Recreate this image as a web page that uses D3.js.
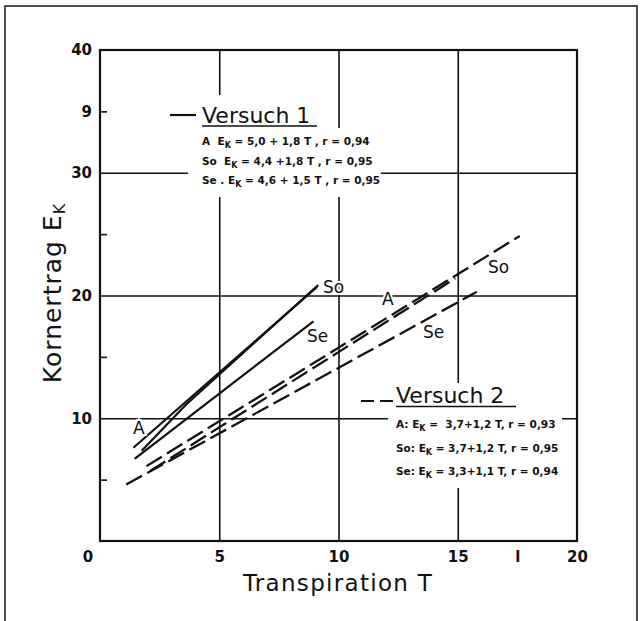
<!DOCTYPE html>
<html>
<head>
<meta charset="utf-8">
<script src="https://cdn.jsdelivr.net/npm/d3@7"></script>
<style>
  body { margin: 0; background: #fff; }
  text { font-family: "DejaVu Sans", sans-serif; fill: #111; }
</style>
</head>
<body>
<div id="chart"></div>
<script>

// tick values + the labels as printed (the "9" and "l" are in the scan)
const yTickValues = [10, 20, 30, 35, 40];
const yTickLabels = ["10", "20", "30", "9", "40"];
const yMinorTicks = [5, 15, 25, 35];
const xTickValues = [5, 10, 15, 17.5, 20];
const xTickLabels = ["5", "10", "15", "l", "20"];
const gridX = [5, 10, 15];
const gridY = [10, 20, 30];

// Versuch 1 (solid) - [T, Ek]
const v1_A  = [[1.4, 7.6], [9.1, 20.7]];
const v1_So = [[1.75, 7.35], [3.6, 11.1], [9.15, 20.85]];
const v1_Se = [[1.45, 6.7], [8.95, 17.9]];

// Versuch 2 (dashed)
const v2_A  = [[2.1, 5.7], [14.9, 21.4]];
const v2_So = [[1.95, 6.1], [17.6, 24.85]];
const v2_Se = [[1.1, 4.6], [15.8, 20.3]];

const v1Eq = [
  ["A  E", " = 5,0 + 1,8 T , r = 0,94"],
  ["So  E", " = 4,4 +1,8 T , r = 0,95"],
  ["Se . E", " = 4,6 + 1,5 T , r = 0,95"]
];
const v2Eq = [
  ["A: E", " =  3,7+1,2 T, r = 0,93"],
  ["So: E", " = 3,7+1,2 T, r = 0,95"],
  ["Se: E", " = 3,3+1,1 T, r = 0,94"]
];

// label anchors in data units
const lineLabels = [
  {t: "So", T: 9.35, E: 20.2},
  {t: "Se", T: 8.68, E: 16.2},
  {t: "A",  T: 1.38, E: 8.72},
  {t: "A",  T: 11.82, E: 19.23},
  {t: "Se", T: 13.54, E: 16.54},
  {t: "So", T: 16.27, E: 21.83}
];

var width = 641, height = 621;

var svg = d3.select("#chart").append("svg")
    .attr("width", width)
    .attr("height", height);

// outer frame (bottom runs off the page)
svg.append("rect")
    .attr("x", 5).attr("y", 6)
    .attr("width", 632).attr("height", 640)
    .attr("fill", "none").attr("stroke", "#222").attr("stroke-width", 1.6);

var x = d3.scaleLinear().domain([0, 20]).range([100, 577]);
var y = d3.scaleLinear().domain([0, 40]).range([541, 50]);

// grid
var gx = svg.append("g")
    .attr("transform", "translate(0," + y(0) + ")")
    .call(d3.axisBottom(x).tickValues(gridX).tickSize(-(y(0) - y(40))).tickFormat(""));
var gy = svg.append("g")
    .attr("transform", "translate(" + x(0) + ",0)")
    .call(d3.axisLeft(y).tickValues(gridY).tickSize(-(x(20) - x(0))).tickFormat(""));
[gx, gy].forEach(function(g) {
  g.select(".domain").remove();
  g.selectAll("line").attr("stroke", "#111").attr("stroke-width", 1.6);
});

// white knock-outs behind the legend blocks
var knock = [
  [196, 95, 129, 33], [188, 128, 193, 69],
  [392, 383, 130, 29], [388, 412, 174, 76]
];
svg.selectAll(".knock").data(knock).enter().append("rect")
    .attr("x", d => d[0]).attr("y", d => d[1])
    .attr("width", d => d[2]).attr("height", d => d[3])
    .attr("fill", "#fff");

// frame
svg.append("rect")
    .attr("x", x(0)).attr("y", y(40))
    .attr("width", x(20) - x(0)).attr("height", y(0) - y(40))
    .attr("fill", "none").attr("stroke", "#111").attr("stroke-width", 2.2);

// axes labels
var ax = svg.append("g")
    .attr("transform", "translate(" + x(0) + ",0)")
    .call(d3.axisLeft(y).tickValues(yTickValues).tickSize(0).tickPadding(8)
      .tickFormat((d, i) => yTickLabels[i]));
var minor = svg.append("g")
    .attr("transform", "translate(" + x(0) + ",0)")
    .call(d3.axisLeft(y).tickValues(yMinorTicks).tickSize(-7).tickFormat(""));
var bx = svg.append("g")
    .attr("transform", "translate(0," + y(0) + ")")
    .call(d3.axisBottom(x).tickValues(xTickValues).tickSize(0).tickPadding(10)
      .tickFormat((d, i) => xTickLabels[i]));
[ax, minor, bx].forEach(function(g) {
  g.select(".domain").remove();
  g.selectAll("text").style("font-size", "15px").style("font-weight", "bold")
    .style("font-family", "DejaVu Sans").attr("fill", "#111");
  g.selectAll("line").attr("stroke", "#111").attr("stroke-width", 1.6);
});
svg.append("text")
    .attr("x", x(0) - 12).attr("y", y(0) + 21)
    .attr("text-anchor", "middle")
    .style("font-size", "15px").style("font-weight", "bold")
    .text("0");

// data lines
var line = d3.line().x(d => x(d[0])).y(d => y(d[1]));
[v1_A, v1_So, v1_Se].forEach(function(d) {
  svg.append("path").datum(d).attr("d", line)
      .attr("fill", "none").attr("stroke", "#111").attr("stroke-width", 2.2);
});
[v2_A, v2_So, v2_Se].forEach(function(d) {
  svg.append("path").datum(d).attr("d", line)
      .attr("fill", "none").attr("stroke", "#111").attr("stroke-width", 2.3)
      .attr("stroke-dasharray", "18,6");
});

// line labels, white halo cuts the grid like in the print
svg.selectAll(".lbl").data(lineLabels).enter().append("text")
    .attr("x", d => x(d.T)).attr("y", d => y(d.E))
    .style("font-size", "17px")
    .attr("stroke", "#fff").attr("stroke-width", 4).attr("paint-order", "stroke")
    .text(d => d.t);

// legends
function legend(title, eqs, tx, ty, rows, dashed, mx0, mx1, my, tw) {
  svg.append("line")
      .attr("x1", mx0).attr("x2", mx1).attr("y1", my).attr("y2", my)
      .attr("stroke", "#111").attr("stroke-width", 2.2)
      .attr("stroke-dasharray", dashed ? "13,6" : null);
  svg.append("text").attr("x", tx).attr("y", ty)
      .style("font-size", "22px").text(title);
  svg.append("line")
      .attr("x1", tx).attr("x2", tx + tw).attr("y1", ty + 3.5).attr("y2", ty + 3.5)
      .attr("stroke", "#111").attr("stroke-width", 1.6);
  eqs.forEach(function(e, i) {
    var t = svg.append("text").attr("x", tx).attr("y", rows[i])
        .style("font-size", "10.5px").style("font-weight", "bold")
        .style("white-space", "pre");
    t.append("tspan").text(e[0]);
    t.append("tspan").attr("dy", 3).style("font-size", "8px").text("K");
    t.append("tspan").attr("dy", -3).text(e[1]);
  });
}
legend("Versuch 1", v1Eq, 202, 122.5, [145, 165, 184], false, 170, 196, 115, 115);
legend("Versuch 2", v2Eq, 396, 403, [428, 452, 475], true, 361, 393, 401, 120);

// axis titles
var yt = svg.append("text")
    .attr("transform", "translate(61,293) rotate(-90)")
    .attr("text-anchor", "middle")
    .style("font-size", "25px").style("letter-spacing", "1px");
yt.append("tspan").text("Kornertrag E");
yt.append("tspan").attr("dy", 4).style("font-size", "16px").text("K");

svg.append("text")
    .attr("x", 338).attr("y", 591)
    .attr("text-anchor", "middle")
    .style("font-size", "23px").style("letter-spacing", "1.3px")
    .text("Transpiration T");

</script>
</body>
</html>
